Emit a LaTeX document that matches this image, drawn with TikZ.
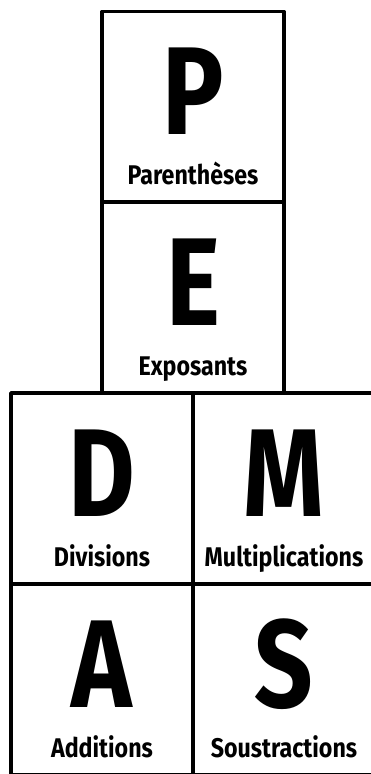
\documentclass[tikz,border=0pt]{standalone}
\usepackage{fontspec}
\setmainfont{Fira Sans}
\newfontfamily\pemdasfont{Fira Sans}[FakeStretch=0.82]
\newfontfamily\pemdaslabel{Fira Sans}[FakeStretch=0.86]
\usetikzlibrary{positioning}

\begin{document}
\begin{tikzpicture}[x=1pt, y=-1pt, line join=round,
  cellbox/.style={draw=black, line width=3.5pt, minimum width=182pt, minimum height=191pt, inner sep=0pt, outer sep=0pt},
  bigletter/.style={font=\pemdasfont\bfseries\fontsize{125}{125}\selectfont, anchor=base, inner sep=0pt},
  cellname/.style={font=\pemdaslabel\bfseries\fontsize{27}{27}\selectfont, anchor=base, inner sep=0pt}]
  \clip (0,0) rectangle (371,774);
  \fill[white] (0,0) rectangle (371,774);
  % pile du haut
  \node[cellbox] (boxP) at (193,107) {};
  \node[cellbox] (boxE) at (193,297.5) {};
  % grille du bas
  \node[cellbox] (boxD) at (102,488.5) {};
  \node[cellbox] (boxM) at (284,488.5) {};
  \node[cellbox] (boxA) at (102,679.5) {};
  \node[cellbox] (boxS) at (284,679.5) {};
  \foreach \b/\t in {P/Parenthèses, E/Exposants, D/Divisions, M/Multiplications, A/Additions, S/Soustractions}{
    \node[bigletter] (let\b) at ([yshift=-123pt]box\b.north) {\b};
    \node[cellname] (name\b) at ([yshift=-173pt]box\b.north) {\t};
  }
\end{tikzpicture}
\end{document}
